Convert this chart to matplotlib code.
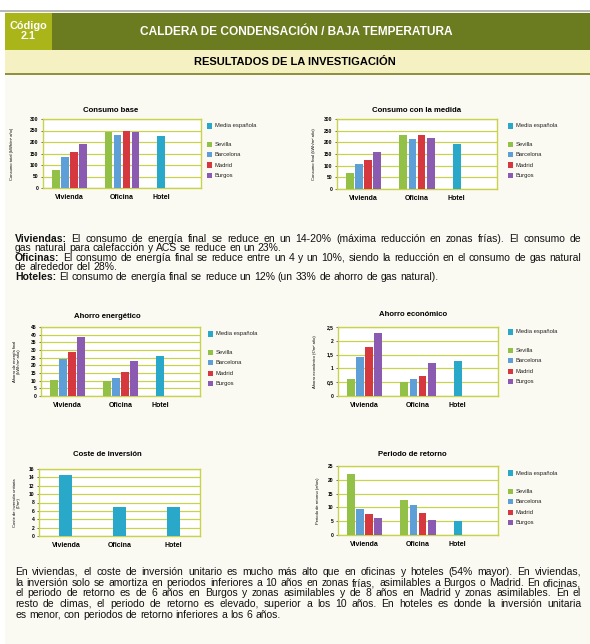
import matplotlib
matplotlib.use("Agg")
import matplotlib.pyplot as plt
from matplotlib.patches import Rectangle
import numpy as np

plt.rcParams['font.family'] = ['Liberation Sans', 'DejaVu Sans']

# ---------------- data ----------------
categories = ['Vivienda', 'Oficina', 'Hotel']
cities = ['Sevilla', 'Barcelona', 'Madrid', 'Burgos']
media_label = 'Media española'

consumo_base_viv = [79, 135, 155, 190]
consumo_base_ofi = [243, 230, 249, 244]
consumo_base_hotel = 227

consumo_medida_viv = [67, 107, 124, 158]
consumo_medida_ofi = [233, 213, 233, 217]
consumo_medida_hotel = 195

ahorro_energ_viv = [10.5, 24, 29, 38.5]
ahorro_energ_ofi = [9.5, 12, 15.5, 23]
ahorro_energ_hotel = 26

ahorro_econ_viv = [0.6, 1.42, 1.78, 2.3]
ahorro_econ_ofi = [0.5, 0.6, 0.74, 1.2]
ahorro_econ_hotel = 1.28

coste_inversion = [14.5, 7, 7]

retorno_viv = [22, 9.6, 7.7, 6.1]
retorno_ofi = [12.7, 10.7, 8.1, 5.5]
retorno_hotel = 5.1

city_colors = ['#93c047', '#5f9fd8', '#d5393f', '#8a5bb0']
media_color = '#2aa8c9'
grid_color = '#c9d24e'
bg = '#fbfaf2'

W, H = 590, 644
fig = plt.figure(figsize=(W / 100, H / 100), dpi=100, facecolor=bg)


def fx(x):
    return x / W


def fy(y):
    return 1 - y / H


def rect(x0, y0, x1, y1, color, z=0):
    fig.patches.append(Rectangle((fx(x0), fy(y1)), fx(x1) - fx(x0), fy(y0) - fy(y1),
                                 transform=fig.transFigure, facecolor=color,
                                 edgecolor='none', zorder=z))


# ---------------- header ----------------
rect(0, 0, 5, H, '#ffffff')
rect(0, 0, W, 11, '#ffffff')
rect(0, 10.5, W, 11.5, '#b9b9b9')
rect(5, 12.5, W, 50, '#6b7b1f')
rect(5, 12.5, 52, 50, '#a9b519')
rect(5, 50, W, 73, '#f6f1c3')
rect(5, 73, W, 75, '#8d9140')
fig.text(fx(28.5), fy(31), 'Código\n2.1', color='white', fontsize=7.8, fontweight='bold',
         ha='center', va='center', linespacing=0.9)
fig.text(fx(296), fy(32), 'CALDERA DE CONDENSACIÓN / BAJA TEMPERATURA', color='white',
         fontsize=8.6, fontweight='bold', ha='center', va='center')
fig.text(fx(295), fy(62), 'RESULTADOS DE LA INVESTIGACIÓN', color='black',
         fontsize=8.0, fontweight='bold', ha='center', va='center')

pitch = 0.17
bw = 0.148


def make_axes(l, t, r, b, ymax, ystep, title, title_x, title_y, ylabel, ylabel_x,
              yfmt=None):
    ax = fig.add_axes([fx(l), fy(b), fx(r) - fx(l), fy(t) - fy(b)])
    ax.set_facecolor('white')
    ax.set_xlim(-0.5, 2.5)
    ax.set_ylim(0, ymax)
    ticks = np.arange(0, ymax + ystep / 2, ystep)
    ax.set_yticks(ticks)
    if yfmt is not None:
        ax.set_yticklabels([yfmt(v) for v in ticks])
    for s in ax.spines.values():
        s.set_color(grid_color)
        s.set_linewidth(1.0)
    ax.yaxis.grid(True, color=grid_color, linewidth=0.9)
    ax.set_axisbelow(True)
    ax.tick_params(axis='y', labelsize=3.6, length=1.8, width=0.5, color='#333333', pad=1.5)
    ax.tick_params(axis='x', labelsize=5.0, length=0, pad=4)
    for lab in ax.get_yticklabels():
        lab.set_fontweight('bold')
    fig.text(fx(title_x), fy(title_y), title, fontsize=5.6, fontweight='bold',
             ha='center', va='center')
    fig.text(fx(ylabel_x), fy((t + b) / 2), ylabel, fontsize=3.0, rotation=90,
             ha='center', va='center', linespacing=1.0)
    return ax


def grouped(ax, viv, ofi, hotel):
    for i in range(4):
        off = (i - 1.5) * pitch
        ax.bar([0 + off, 1 + off], [viv[i], ofi[i]], width=bw, color=city_colors[i], zorder=3)
    hx = 2 - 1.5 * pitch
    ax.bar([hx], [hotel], width=bw, color=media_color, zorder=3)
    ax.set_xticks([0, 1, hx])
    ax.set_xticklabels(categories, fontweight='bold')


def legend(x, top):
    ym = top + 7
    rect(x, ym - 2.6, x + 5.2, ym + 2.6, media_color, 5)
    fig.text(fx(x + 8), fy(ym), media_label, fontsize=4.2, ha='left', va='center', color='#222222')
    ys = ym + 18.5
    for i, c in enumerate(cities):
        yy = ys + i * 10.3
        rect(x, yy - 2.6, x + 5.2, yy + 2.6, city_colors[i], 5)
        fig.text(fx(x + 8), fy(yy), c, fontsize=4.2, ha='left', va='center', color='#222222')


# Chart 1
ax1 = make_axes(43, 119, 201, 188, 300, 50, 'Consumo base', 111, 110,
                'Consumo total (kWh/m² año)', 12)
grouped(ax1, consumo_base_viv, consumo_base_ofi, consumo_base_hotel)
legend(207, 119)

# Chart 2
ax2 = make_axes(337, 119, 497, 189, 300, 50, 'Consumo con la medida', 417, 110,
                'Consumo final (kWh/m² año)', 314)
grouped(ax2, consumo_medida_viv, consumo_medida_ofi, consumo_medida_hotel)
legend(508, 119)

# Chart 3
ax3 = make_axes(41, 327, 200, 396, 45, 5, 'Ahorro energético', 107, 317,
                'Ahorro de energía final\n(kWh/m² año)', 17)
grouped(ax3, ahorro_energ_viv, ahorro_energ_ofi, ahorro_energ_hotel)
legend(208, 327)

# Chart 4
ax4 = make_axes(338, 327, 498, 396, 2.5, 0.5, 'Ahorro económico', 413, 315,
                'Ahorro económico (€/m² año)', 315,
                yfmt=lambda v: ('%g' % v).replace('.', ','))
grouped(ax4, ahorro_econ_viv, ahorro_econ_ofi, ahorro_econ_hotel)
legend(508, 325)

# Chart 5
ax5 = make_axes(39, 469, 200, 536, 16, 2, 'Coste de inversión', 107, 455,
                'Coste de inversión unitaria\n(€/m²)', 17)
ax5.bar([0, 1, 2], coste_inversion, width=0.24, color=media_color, zorder=3)
ax5.set_xticks([0, 1, 2])
ax5.set_xticklabels(categories, fontweight='bold')

# Chart 6
ax6 = make_axes(338, 466, 498, 535, 25, 5, 'Periodo de retorno', 412, 455,
                'Periodo de retorno (años)', 318)
grouped(ax6, retorno_viv, retorno_ofi, retorno_hotel)
legend(508, 466)

# ---------------- paragraphs (justified) ----------------
renderer = fig.canvas.get_renderer()

p1 = [
    ([('Viviendas:', True), ('El consumo de energía final se reduce en un 14-20% (máxima reducción en zonas frías). El consumo de', False)], True),
    ([('gas natural para calefacción y ACS se reduce en un 23%.', False)], False),
    ([('Oficinas:', True), ('El consumo de energía final se reduce entre un 4 y un 10%, siendo la reducción en el consumo de gas natural', False)], True),
    ([('de alrededor del 28%.', False)], False),
    ([('Hoteles:', True), ('El consumo de energía final se reduce un 12% (un 33% de ahorro de gas natural).', False)], False),
]
p2 = [
    ([('En viviendas, el coste de inversión unitario es mucho más alto que en oficinas y hoteles (54% mayor). En viviendas,', False)], True),
    ([('la inversión solo se amortiza en periodos inferiores a 10 años en zonas frías, asimilables a Burgos o Madrid. En oficinas,', False)], True),
    ([('el periodo de retorno es de 6 años en Burgos y zonas asimilables y de 8 años en Madrid y zonas asimilables. En el', False)], True),
    ([('resto de climas, el periodo de retorno es elevado, superior a los 10 años. En hoteles es donde la inversión unitaria', False)], True),
    ([('es menor, con periodos de retorno inferiores a los 6 años.', False)], False),
]


def measure(s, bold, fs):
    t = fig.text(0, 0, s, fontsize=fs, fontweight='bold' if bold else 'normal')
    w = t.get_window_extent(renderer).width
    t.remove()
    return w


X0, X1 = 15, 581
# fit the font size so the longest justified line nearly fills the column
ref_fs = 10.0
longest = 0
for segs, j in p1 + p2:
    if j:
        s = ' '.join(t for t, _ in segs)
        bold_w = sum(measure(t, b, ref_fs) - measure(t, False, ref_fs) for t, b in segs if b)
        longest = max(longest, measure(s, False, ref_fs) + bold_w)
FS = min(7.6, ref_fs * (X1 - X0) * 0.985 / longest)
space_w = measure('x x', False, FS) - measure('xx', False, FS)


def draw_line(segments, y, justify=True):
    words = []
    for txt, bold in segments:
        for w in txt.split():
            words.append((w, bold))
    widths = [measure(w, b, FS) for w, b in words]
    total = sum(widths)
    if justify and len(words) > 1:
        gap = (X1 - X0 - total) / (len(words) - 1)
    else:
        gap = space_w
    x = X0
    for (w, b), wd in zip(words, widths):
        fig.text(fx(x), fy(y), w, fontsize=FS, fontweight='bold' if b else 'normal',
                 ha='left', va='center', color='#111111')
        x += wd + gap


p1_y = [238.5, 248, 258, 267.5, 277.5]
for (segs, j), y in zip(p1, p1_y):
    draw_line(segs, y, justify=j)

p2_y = [572, 583, 593.5, 604, 614.5]
for (segs, j), y in zip(p2, p2_y):
    draw_line(segs, y, justify=j)

fig.savefig('out.png', dpi=100, facecolor=bg)
